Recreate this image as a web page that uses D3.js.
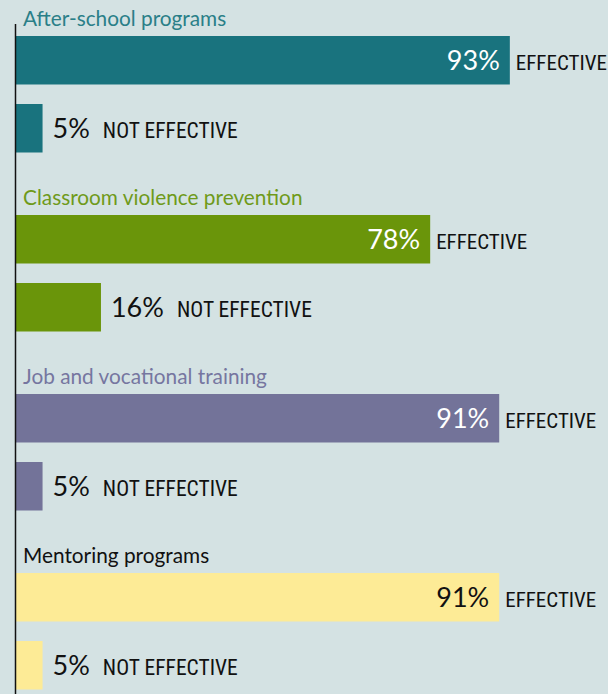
<!DOCTYPE html>
<html>
<head>
<meta charset="utf-8">
<script src="https://cdn.jsdelivr.net/npm/d3@7"></script>
<style>
  body { margin: 0; background: #d4e2e3; }
  svg { display: block; }
</style>
</head>
<body>
<svg id="chart" width="608" height="694"></svg>
<script>
// data
const programs = ["After-school programs", "Classroom violence prevention", "Job and vocational training", "Mentoring programs"];
const effective = [93, 78, 91, 91];
const notEffective = [5, 16, 5, 5];
const barColors = ["#19737e", "#6a950a", "#737399", "#fdeb96"];
const titleColors = ["#2a7f88", "#6f9a1a", "#7676a0", "#111111"];
const answers = ["EFFECTIVE", "NOT EFFECTIVE"];

const svg = d3.select("#chart");
const width = 608, height = 694;

svg.append("rect")
  .attr("width", width)
  .attr("height", height)
  .attr("fill", "#d4e2e3");

const x = d3.scaleLinear().domain([0, 100]).range([16, 547]);

const y = d3.scaleBand()
  .domain(programs)
  .range([36, 36 + 179 * programs.length]);

const yInner = d3.scaleBand()
  .domain(answers)
  .range([0, 116.5])
  .paddingInner(0.287);

const bw = yInner.bandwidth();
const condensed = "'Liberation Sans Narrow', 'Roboto Condensed', sans-serif";

let groups = svg.selectAll("g.group")
  .data(programs)
  .enter()
  .append("g")
  .attr("class", "group")
  .attr("transform", d => "translate(0," + y(d) + ")");

groups.append("text")
  .attr("x", 23)
  .attr("y", -10)
  .attr("font-family", "Lato, sans-serif")
  .attr("font-size", 20.8)
  .attr("fill", (d, i) => titleColors[i])
  .text(d => d);

groups.each(function(d, i) {
  let g = d3.select(this);
  let rows = [
    {key: "EFFECTIVE", value: effective[i]},
    {key: "NOT EFFECTIVE", value: notEffective[i]}
  ];

  g.selectAll("rect")
    .data(rows)
    .enter()
    .append("rect")
    .attr("x", x(0))
    .attr("y", r => yInner(r.key))
    .attr("width", r => x(r.value) - x(0))
    .attr("height", bw)
    .attr("fill", barColors[i]);

  // big bar: value inside, answer after
  let r0 = rows[0];
  g.append("text")
    .attr("x", x(r0.value) - 10)
    .attr("y", yInner(r0.key) + bw / 2 + 9.5)
    .attr("text-anchor", "end")
    .attr("font-family", "Lato, sans-serif")
    .attr("font-size", 27)
    .attr("fill", i == 3 ? "#111" : "#fff")
    .text(r0.value + "%");

  g.append("text")
    .attr("x", x(r0.value) + 6)
    .attr("y", yInner(r0.key) + bw / 2 + 9.5)
    .attr("font-family", condensed)
    .attr("font-size", 21)
    .attr("fill", "#111")
    .text(r0.key);

  // small bar: value and answer after the bar
  let r1 = rows[1];
  let t = g.append("text")
    .attr("x", x(r1.value) + 10)
    .attr("y", yInner(r1.key) + bw / 2 + 9.5)
    .attr("fill", "#111");
  t.append("tspan")
    .attr("font-family", "Lato, sans-serif")
    .attr("font-size", 27)
    .text(r1.value + "%");
  t.append("tspan")
    .attr("dx", 13)
    .attr("font-family", condensed)
    .attr("font-size", 21.5)
    .text(r1.key);
});

// vertical axis line
svg.append("line")
  .attr("x1", 15.5)
  .attr("x2", 15.5)
  .attr("y1", 24)
  .attr("y2", height)
  .attr("stroke", "#111")
  .attr("stroke-width", 1.5);
</script>
</body>
</html>
